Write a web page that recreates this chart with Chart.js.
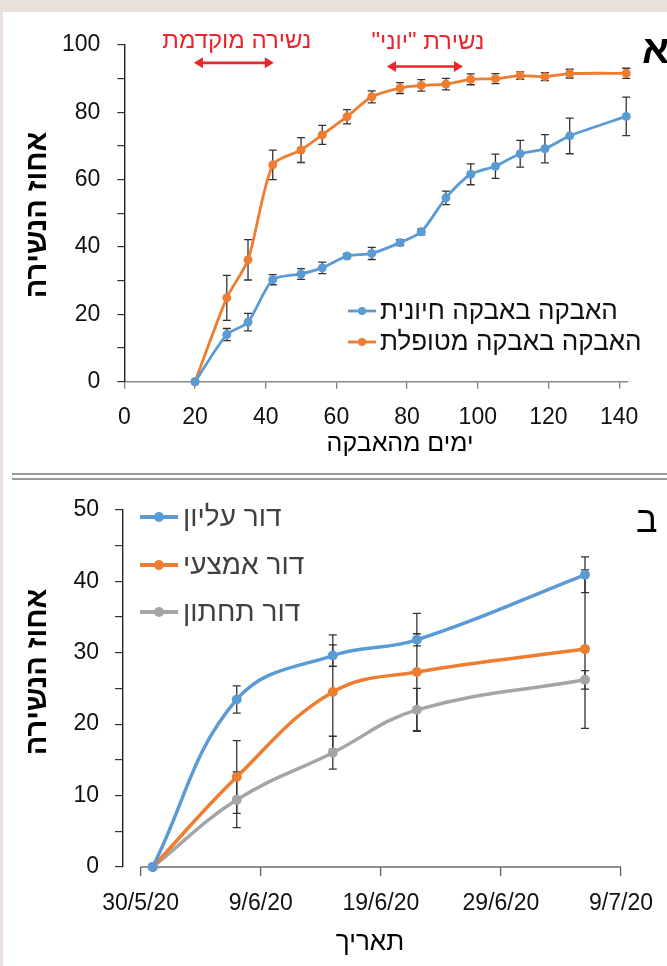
<!DOCTYPE html>
<html>
<head>
<meta charset="utf-8">
<script src="https://cdn.jsdelivr.net/npm/chart.js@4.4.0/dist/chart.umd.min.js"></script>
<style>
html,body{margin:0;padding:0;background:#e9e1d9;}
body{width:667px;height:966px;position:relative;overflow:hidden;}
#panel{position:absolute;left:3px;top:12px;width:664px;height:954px;background:#fff;}
.sep{position:absolute;left:12px;width:655px;height:0;border-top:2px solid #9a9a9a;}
canvas{position:absolute;left:0;}
</style>
</head>
<body>
<div id="panel"></div>
<div class="sep" style="top:473px"></div>
<div class="sep" style="top:478px"></div>
<canvas id="c1" width="667" height="470" style="top:0"></canvas>
<canvas id="c2" width="667" height="486" style="top:480px"></canvas>
<script>
// ---------- Chart A data ----------
const daysA = [20, 29, 35, 42, 50, 56, 63, 70, 78, 84, 91, 98, 105, 112, 119, 126, 142];
const viableA = [0, 14.0, 17.7, 30.3, 32.0, 33.8, 37.3, 38.1, 41.3, 44.5, 54.6, 61.6, 64.0, 67.7, 69.2, 73.0, 78.8];
const viableErrA = [0, 1.8, 2.6, 1.5, 1.6, 1.7, 0.7, 1.8, 0.9, 0.9, 2.0, 3.1, 3.6, 4.0, 4.2, 5.3, 5.7];
const treatedA = [0, 24.9, 36.2, 64.4, 68.8, 73.3, 78.7, 84.6, 87.2, 88.0, 88.4, 89.8, 90.0, 90.9, 90.6, 91.5, 91.6];
const treatedErrA = [0, 6.7, 6.0, 4.4, 3.7, 2.8, 2.1, 1.8, 1.6, 1.7, 1.7, 1.6, 1.5, 1.1, 1.2, 1.3, 1.5];
const seriesNamesA = ['האבקה באבקה חיונית', 'האבקה באבקה מטופלת'];
const xTicksA = [0, 20, 40, 60, 80, 100, 120, 140];
const yTicksA = [0, 10, 20, 30, 40, 50, 60, 70, 80, 90, 100];
const yLabelsA = [0, 20, 40, 60, 80, 100];
const xTitleA = 'ימים מהאבקה';
const yTitleA = 'אחוז הנשירה';
const panelA = 'א';
const annoTexts = ['נשירה מוקדמת', 'נשירת "יוני"'];
const annoFrom = [19.7, 74.3];
const annoTo = [42.3, 95.8];
const annoArrowY = [94.7, 93.6];
const annoTextY = [101.0, 100.8];

// ---------- Chart B data ----------
const dateLabelsB = ['31/5/20', '7/6/20', '15/6/20', '22/6/20', '6/7/20'];
const upperB = [0, 23.45, 29.6, 31.8, 40.9];
const upperErrB = [0, 1.9, 1.5, 0.85, 2.5];
const middleB = [0, 12.6, 24.5, 27.3, 30.5];
const middleErrB = [0, 5.1, 8.0, 8.2, 11.1];
const lowerB = [0, 9.4, 16.0, 22.0, 26.2];
const lowerErrB = [0, 3.9, 2.3, 3.0, 1.3];
const seriesNamesB = ['דור עליון', 'דור אמצעי', 'דור תחתון'];
const xTickLabelsB = ['30/5/20', '9/6/20', '19/6/20', '29/6/20', '9/7/20'];
const yTicksB = [0, 5, 10, 15, 20, 25, 30, 35, 40, 45, 50];
const yLabelsB = [0, 10, 20, 30, 40, 50];
const xTitleB = 'תאריך';
const yTitleB = 'אחוז הנשירה';
const panelB = 'ב';

// ---------- helpers ----------
const FONT = '"Liberation Sans", "DejaVu Sans", Arial, sans-serif';
function dayNum(s) { const [d, m, y] = s.split('/').map(Number); return Date.UTC(2000 + y, m - 1, d) / 86400000; }
const originB = dayNum(xTickLabelsB[0]);
const xB = dateLabelsB.map(s => dayNum(s) - originB);
const xTickValsB = xTickLabelsB.map(s => dayNum(s) - originB);
const pts = (xs, ys) => xs.map((x, i) => ({x: x, y: ys[i]}));

const errorBars = {
  id: 'errorBars',
  beforeDatasetsDraw(chart, args, opts) {
    const ctx = chart.ctx, xs = chart.scales.x, ys = chart.scales.y;
    ctx.save();
    // optional partial x-axis line (from first to last tick)
    if (opts.axisLine) {
      const y0 = ys.getPixelForValue(0);
      ctx.strokeStyle = opts.axisLine.color; ctx.lineWidth = opts.axisLine.width;
      ctx.beginPath();
      ctx.moveTo(xs.getPixelForValue(opts.axisLine.from), y0);
      ctx.lineTo(xs.getPixelForValue(opts.axisLine.to), y0);
      ctx.stroke();
    }
    ctx.strokeStyle = opts.color; ctx.lineWidth = opts.width;
    chart.data.datasets.forEach(ds => {
      if (!ds.errors) return;
      ds.data.forEach((p, i) => {
        const e = ds.errors[i]; if (!e) return;
        const px = xs.getPixelForValue(p.x);
        const y1 = ys.getPixelForValue(p.y + e), y2 = ys.getPixelForValue(p.y - e);
        ctx.beginPath();
        ctx.moveTo(px, y1); ctx.lineTo(px, y2);
        ctx.moveTo(px - opts.cap, y1); ctx.lineTo(px + opts.cap, y1);
        ctx.moveTo(px - opts.cap, y2); ctx.lineTo(px + opts.cap, y2);
        ctx.stroke();
      });
    });
    ctx.restore();
  }
};

const decor = {
  id: 'decor',
  afterDraw(chart, args, o) {
    const ctx = chart.ctx;
    ctx.save();
    ctx.direction = 'rtl';
    // legend
    const L = o.legend;
    chart.data.datasets.forEach((ds, i) => {
      const y = L.ys[i];
      ctx.strokeStyle = ds.borderColor; ctx.lineWidth = L.lw;
      ctx.beginPath(); ctx.moveTo(L.x, y); ctx.lineTo(L.x + L.len, y); ctx.stroke();
      ctx.fillStyle = ds.borderColor;
      ctx.beginPath(); ctx.arc(L.x + L.len / 2, y, L.r, 0, Math.PI * 2); ctx.fill();
      ctx.font = L.font; ctx.fillStyle = L.color;
      ctx.textBaseline = 'middle'; ctx.textAlign = 'left';
      ctx.fillText(ds.label, L.x + L.len + L.gap, y + 1);
    });
    // axis titles
    ctx.fillStyle = '#000';
    ctx.textAlign = 'center'; ctx.textBaseline = 'middle';
    ctx.font = o.xTitle.font;
    ctx.fillText(o.xTitle.text, o.xTitle.x, o.xTitle.y);
    ctx.save();
    ctx.translate(o.yTitle.x, o.yTitle.y); ctx.rotate(-Math.PI / 2);
    ctx.font = o.yTitle.font;
    ctx.fillText(o.yTitle.text, 0, 0);
    ctx.restore();
    // panel letter
    ctx.font = o.letter.font; ctx.textAlign = 'left';
    ctx.fillText(o.letter.text, o.letter.x, o.letter.y);
    // annotations
    if (o.anno) {
      const xs = chart.scales.x, ys = chart.scales.y;
      ctx.strokeStyle = '#e8262c'; ctx.fillStyle = '#e8262c'; ctx.lineWidth = 2.6;
      o.anno.texts.forEach((t, i) => {
        const x1 = xs.getPixelForValue(o.anno.from[i]), x2 = xs.getPixelForValue(o.anno.to[i]);
        const y = ys.getPixelForValue(o.anno.arrowY[i]);
        const h = 9, w = 5.5;
        ctx.beginPath(); ctx.moveTo(x1 + h - 1, y); ctx.lineTo(x2 - h + 1, y); ctx.stroke();
        ctx.beginPath(); ctx.moveTo(x1, y); ctx.lineTo(x1 + h, y - w); ctx.lineTo(x1 + h, y + w); ctx.closePath(); ctx.fill();
        ctx.beginPath(); ctx.moveTo(x2, y); ctx.lineTo(x2 - h, y - w); ctx.lineTo(x2 - h, y + w); ctx.closePath(); ctx.fill();
        ctx.font = o.anno.font; ctx.textAlign = 'center'; ctx.textBaseline = 'middle';
        ctx.fillText(t, (x1 + x2) / 2 + 3, ys.getPixelForValue(o.anno.textY[i]));
      });
    }
    ctx.restore();
  }
};

Chart.defaults.font.family = FONT;

// ---------- Chart A ----------
new Chart(document.getElementById('c1'), {
  type: 'line',
  data: {
    datasets: [
      {label: seriesNamesA[0], data: pts(daysA, viableA), errors: viableErrA,
       borderColor: '#5b9bd5', backgroundColor: '#5b9bd5', borderWidth: 2.8,
       pointRadius: 4.5, pointBorderWidth: 0, tension: 0.25, clip: false},
      {label: seriesNamesA[1], data: pts(daysA, treatedA), errors: treatedErrA,
       borderColor: '#ed7d31', backgroundColor: '#ed7d31', borderWidth: 2.8,
       pointRadius: 4.5, pointBorderWidth: 0, tension: 0.25, clip: false}
    ]
  },
  options: {
    responsive: false, animation: false, events: [],
    layout: {padding: {left: 0, right: 39, top: 45, bottom: 0}},
    scales: {
      x: {
        type: 'linear', min: 0, max: 142.5,
        afterFit: s => { s.height = 88.3; },
        afterBuildTicks: s => { s.ticks = xTicksA.map(v => ({value: v})); },
        grid: {drawOnChartArea: false, color: '#7f7f7f', tickLength: 7, lineWidth: 1.3},
        border: {color: '#8c8c8c', width: 1.6},
        ticks: {padding: 15, color: '#111', font: {size: 23}, maxRotation: 0, autoSkip: false}
      },
      y: {
        type: 'linear', min: 0, max: 100,
        afterFit: s => { s.width = 124.3; },
        afterBuildTicks: s => { s.ticks = yTicksA.map(v => ({value: v})); },
        grid: {drawOnChartArea: false, color: '#333', tickLength: 7, lineWidth: 1.2},
        border: {color: '#222', width: 1.4},
        ticks: {padding: 17, color: '#111', font: {size: 23}, autoSkip: false,
                callback: v => yLabelsA.includes(v) ? String(v) : ''}
      }
    },
    plugins: {
      legend: {display: false}, tooltip: {enabled: false},
      errorBars: {color: '#333', width: 1.3, cap: 4},
      decor: {
        legend: {x: 348, ys: [311, 342], len: 28, lw: 2.8, r: 4, gap: 4,
                 font: '26px ' + FONT, color: '#111'},
        xTitle: {text: xTitleA, x: 400, y: 444, font: '25px ' + FONT},
        yTitle: {text: yTitleA, x: 38, y: 215, font: 'bold 29px ' + FONT},
        letter: {text: panelA, x: 642, y: 52, font: 'bold 40px ' + FONT},
        anno: {texts: annoTexts, from: annoFrom, to: annoTo, arrowY: annoArrowY,
               textY: annoTextY, font: '24px ' + FONT}
      }
    }
  },
  plugins: [errorBars, decor]
});

// ---------- Chart B ----------
new Chart(document.getElementById('c2'), {
  type: 'line',
  data: {
    datasets: [
      {label: seriesNamesB[0], data: pts(xB, upperB), errors: upperErrB,
       borderColor: '#5b9bd5', backgroundColor: '#5b9bd5', borderWidth: 3.5,
       pointRadius: 5, pointBorderWidth: 0, tension: 0.4, clip: false},
      {label: seriesNamesB[1], data: pts(xB, middleB), errors: middleErrB,
       borderColor: '#ed7d31', backgroundColor: '#ed7d31', borderWidth: 3.5,
       pointRadius: 5, pointBorderWidth: 0, tension: 0.4, clip: false},
      {label: seriesNamesB[2], data: pts(xB, lowerB), errors: lowerErrB,
       borderColor: '#a5a5a5', backgroundColor: '#a5a5a5', borderWidth: 3.5,
       pointRadius: 5, pointBorderWidth: 0, tension: 0.4, clip: false}
    ]
  },
  options: {
    responsive: false, animation: false, events: [],
    layout: {padding: {left: 0, right: 43.5, top: 18.3, bottom: 0}},
    scales: {
      x: {
        type: 'linear', min: -1.47, max: 40,
        afterFit: s => { s.height = 99; },
        afterBuildTicks: s => { s.ticks = xTickValsB.map(v => ({value: v})); },
        grid: {drawOnChartArea: false, color: '#555', tickLength: 9, lineWidth: 1.2},
        border: {display: false},
        ticks: {padding: 14, color: '#111', font: {size: 23}, maxRotation: 0, autoSkip: false,
                callback: v => { const i = xTickValsB.indexOf(v); return i >= 0 ? xTickLabelsB[i] : ''; }}
      },
      y: {
        type: 'linear', min: 0, max: 50,
        afterFit: s => { s.width = 123; },
        afterBuildTicks: s => { s.ticks = yTicksB.map(v => ({value: v})); },
        grid: {drawOnChartArea: false, color: '#333', tickLength: 8, lineWidth: 1.2},
        border: {color: '#222', width: 1.4},
        ticks: {padding: 16, color: '#111', font: {size: 23}, autoSkip: false,
                callback: v => yLabelsB.includes(v) ? String(v) : ''}
      }
    },
    plugins: {
      legend: {display: false}, tooltip: {enabled: false},
      errorBars: {color: '#333', width: 1.3, cap: 4,
                  axisLine: {from: xTickValsB[0], to: xTickValsB[xTickValsB.length - 1], color: '#6a6a6a', width: 1.4}},
      decor: {
        legend: {x: 140, ys: [37, 85, 132], len: 38, lw: 4, r: 5, gap: 5,
                 font: '28px ' + FONT, color: '#404040'},
        xTitle: {text: xTitleB, x: 370, y: 463, font: '26px ' + FONT},
        yTitle: {text: yTitleB, x: 38, y: 192, font: 'bold 29px ' + FONT},
        letter: {text: panelB, x: 636, y: 42, font: '36px ' + FONT}
      }
    }
  },
  plugins: [errorBars, decor]
});
</script>
</body>
</html>
